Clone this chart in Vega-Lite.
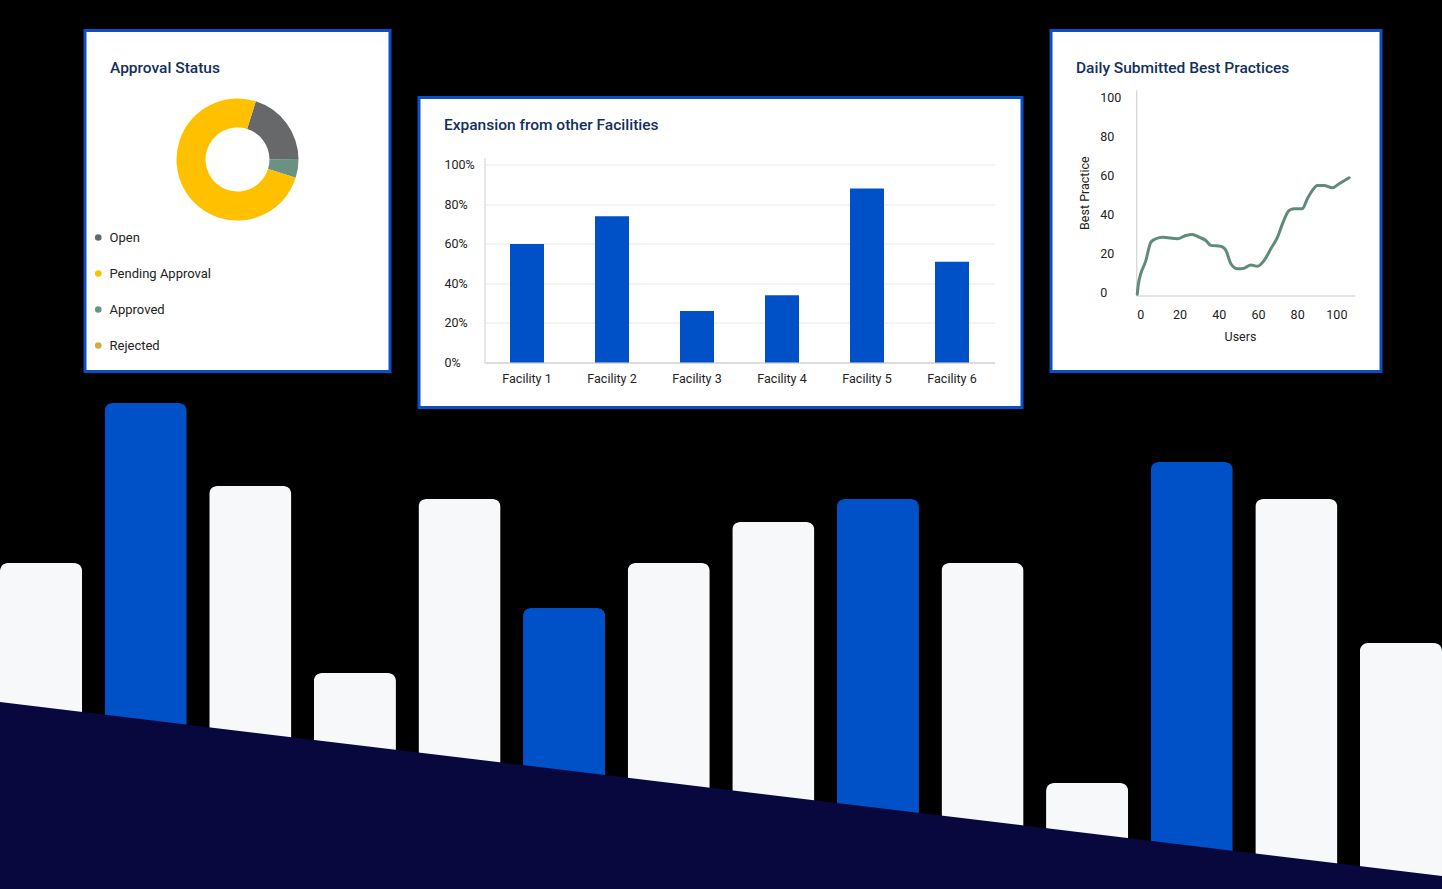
{
  "$schema": "https://vega.github.io/schema/vega-lite/v6.json",
  "background": "#000000",
  "padding": {"left": 0, "top": 28.5, "right": 0, "bottom": 0},
  "bounds": "flush",
  "spacing": 372.5,
  "resolve": {"scale": {"color": "independent"}, "legend": {"color": "independent"}},
  "config": {
    "font": "Roboto",
    "view": {"stroke": null},
    "axis": {
      "labelFont": "Roboto", "titleFont": "Roboto", "labelColor": "#222222", "titleColor": "#222222",
      "domainColor": "#c8c8c8", "labelFontSize": 12.5, "titleFontSize": 12.5, "titleFontWeight": "normal",
      "ticks": false, "tickSize": 0
    },
    "legend": {"labelFont": "Roboto"},
    "title": {"font": "Roboto", "fontSize": 15.5, "fontWeight": 500, "color": "#132f5e", "anchor": "start", "frame": "group"}
  },
  "vconcat": [
    {
      "spacing": 25,
      "bounds": "full",
      "hconcat": [
        {
          "width": 57.5, "height": 20,
          "data": {"values": [{"k": 0}]},
          "mark": {"type": "point", "opacity": 0}
        },
        {
          "width": 305, "height": 341,
          "view": {"fill": "#ffffff", "stroke": "#0b4fc8", "strokeWidth": 3},
          "title": {"text": "Approval Status", "dx": 25, "offset": -45.5},
          "data": {"values": [
            {"status": "Open", "share": 20, "seq": 1},
            {"status": "Approved", "share": 5, "seq": 2},
            {"status": "Pending Approval", "share": 75, "seq": 3},
            {"status": "Rejected", "share": 0, "seq": 4}
          ]},
          "mark": {"type": "arc", "innerRadius": 32, "outerRadius": 61, "yOffset": -41.5},
          "encoding": {
            "theta": {"field": "share", "type": "quantitative", "stack": true, "scale": {"range": [0.3054, 6.5886]}},
            "order": {"field": "seq", "type": "quantitative"},
            "color": {
              "field": "status", "type": "nominal",
              "scale": {"domain": ["Open", "Pending Approval", "Approved", "Rejected"], "range": ["#666869", "#ffc000", "#6a9283", "#d2ab3c"]},
              "legend": {
                "orient": "none", "legendX": 91.75, "legendY": 200.5, "title": null, "padding": 0,
                "symbolType": "circle", "symbolSize": 44, "symbolStrokeWidth": 0,
                "labelFontSize": 13, "labelColor": "#222222", "labelOffset": 4.75, "rowPadding": 22
              }
            }
          }
        },
        {
          "spacing": 20,
          "bounds": "full",
          "vconcat": [
            {
              "width": 10, "height": 45,
              "data": {"values": [{"k": 0}]},
              "mark": {"type": "point", "opacity": 0}
            },
            {
              "width": 603, "height": 310,
              "view": {"fill": "#ffffff", "stroke": "#0b4fc8", "strokeWidth": 3},
              "title": {"text": "Expansion from other Facilities", "dx": 25, "offset": -35.5},
              "data": {"values": [
                {"facility": "Facility 1", "share": 0.60},
                {"facility": "Facility 2", "share": 0.74},
                {"facility": "Facility 3", "share": 0.26},
                {"facility": "Facility 4", "share": 0.34},
                {"facility": "Facility 5", "share": 0.88},
                {"facility": "Facility 6", "share": 0.51}
              ]},
              "mark": {"type": "bar", "color": "#0050c8"},
              "encoding": {
                "x": {
                  "field": "facility", "type": "nominal", "sort": null,
                  "scale": {"range": [65.5, 575.5], "paddingInner": 0.6, "paddingOuter": 0.3},
                  "axis": {"title": null, "labelAngle": 0, "offset": -45, "domainColor": "#c4c4c4", "labelPadding": 10, "labelFontSize": 12.5}
                },
                "y": {
                  "field": "share", "type": "quantitative",
                  "scale": {"domain": [0, 1.037], "range": [265, 60], "nice": false},
                  "axis": {
                    "title": null, "format": ".0%", "values": [0, 0.2, 0.4, 0.6, 0.8, 1], "offset": -65.5,
                    "labelAlign": "left", "labelPadding": 40.5, "grid": true, "gridColor": "#e8e8e8", "domainColor": "#d0d0d0"
                  }
                }
              }
            }
          ]
        },
        {
          "width": 330, "height": 341,
          "view": {"fill": "#ffffff", "stroke": "#0b4fc8", "strokeWidth": 3},
          "title": {"text": "Daily Submitted Best Practices", "dx": 25, "offset": -45.5},
          "data": {"values": [
            {"users": -1.5, "practice": -1},
            {"users": -0.9, "practice": 4.3},
            {"users": 2.9, "practice": 16.3},
            {"users": 5.4, "practice": 25.6},
            {"users": 8, "practice": 27.4},
            {"users": 11.4, "practice": 28.2},
            {"users": 19, "practice": 27.4},
            {"users": 23.3, "practice": 29.1},
            {"users": 26.6, "practice": 29.6},
            {"users": 30, "practice": 28.2},
            {"users": 33.5, "practice": 26.5},
            {"users": 36, "practice": 24},
            {"users": 41, "practice": 23.6},
            {"users": 43.7, "practice": 21.4},
            {"users": 46.2, "practice": 14.6},
            {"users": 49.6, "practice": 12},
            {"users": 53, "practice": 12.3},
            {"users": 56.4, "practice": 14},
            {"users": 59.8, "practice": 13.3},
            {"users": 63.2, "practice": 16.3},
            {"users": 66.6, "practice": 22.3},
            {"users": 70, "practice": 28.2},
            {"users": 72.5, "practice": 35},
            {"users": 75.9, "practice": 41.9},
            {"users": 78.5, "practice": 42.8},
            {"users": 82.7, "practice": 42.8},
            {"users": 85.2, "practice": 47.9},
            {"users": 87.8, "practice": 52.2},
            {"users": 90.3, "practice": 54.7},
            {"users": 93.7, "practice": 54.7},
            {"users": 98, "practice": 53.5},
            {"users": 101.4, "practice": 55.6},
            {"users": 106.5, "practice": 58.7}
          ]},
          "mark": {"type": "line", "color": "#5e8c78", "strokeWidth": 3, "interpolate": "monotone", "strokeCap": "round"},
          "encoding": {
            "x": {
              "field": "users", "type": "quantitative",
              "scale": {"domain": [-2, 109.5], "range": [85.3, 304], "nice": false, "zero": false},
              "axis": {"title": "Users", "values": [0, 20, 40, 60, 80, 100], "grid": false, "offset": -76, "labelPadding": 13, "titlePadding": 9, "titleX": 189}
            },
            "y": {
              "field": "practice", "type": "quantitative",
              "scale": {"domain": [-1.7, 103.8], "range": [265, 59.3], "nice": false, "zero": false},
              "axis": {"title": "Best Practice", "values": [0, 20, 40, 60, 80, 100], "grid": false, "offset": -85.3, "labelAlign": "left", "labelPadding": 36.6, "titlePadding": 8}
            }
          }
        }
      ]
    },
    {
      "width": 1442, "height": 486,
      "layer": [
        {
          "data": {"values": [
            {"slot": 1, "height": 326, "tone": "light"},
            {"slot": 2, "height": 486, "tone": "blue"},
            {"slot": 3, "height": 403, "tone": "light"},
            {"slot": 4, "height": 216, "tone": "light"},
            {"slot": 5, "height": 390, "tone": "light"},
            {"slot": 6, "height": 281, "tone": "blue"},
            {"slot": 7, "height": 326, "tone": "light"},
            {"slot": 8, "height": 367, "tone": "light"},
            {"slot": 9, "height": 390, "tone": "blue"},
            {"slot": 10, "height": 326, "tone": "light"},
            {"slot": 11, "height": 106, "tone": "light"},
            {"slot": 12, "height": 427, "tone": "blue"},
            {"slot": 13, "height": 390, "tone": "light"},
            {"slot": 14, "height": 246, "tone": "light"}
          ]},
          "mark": {"type": "bar", "cornerRadiusTopLeft": 8, "cornerRadiusTopRight": 8},
          "encoding": {
            "x": {"field": "slot", "type": "ordinal", "scale": {"paddingInner": 0.215, "paddingOuter": 0}, "axis": null},
            "y": {"field": "height", "type": "quantitative", "scale": {"domain": [0, 486], "nice": false}, "axis": null},
            "color": {"field": "tone", "type": "nominal", "scale": {"domain": ["light", "blue"], "range": ["#f7f8fa", "#0050c8"]}, "legend": null}
          }
        },
        {
          "data": {"values": [
            {"edge": 0, "height": 187},
            {"edge": 1, "height": 13}
          ]},
          "mark": {"type": "area", "color": "#08083f"},
          "encoding": {
            "x": {"field": "edge", "type": "quantitative", "scale": {"domain": [0, 1], "nice": false}, "axis": null},
            "y": {"field": "height", "type": "quantitative", "scale": {"domain": [0, 486], "nice": false}, "axis": null}
          }
        }
      ],
      "resolve": {"scale": {"x": "independent"}}
    }
  ]
}
